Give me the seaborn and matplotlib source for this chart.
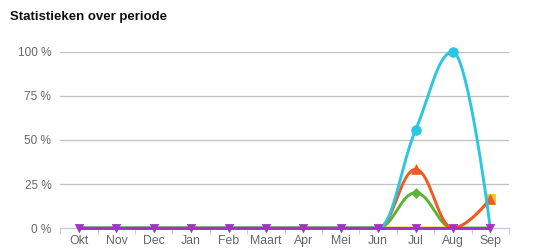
import numpy as np
import pandas as pd
import matplotlib
matplotlib.use("Agg")
import matplotlib.pyplot as plt
import seaborn as sns

months = ["Okt", "Nov", "Dec", "Jan", "Feb", "Maart", "Apr", "Mei", "Jun", "Jul", "Aug", "Sep"]
yticks = [0, 25, 50, 75, 100]
ytick_labels = ["0 %", "25 %", "50 %", "75 %", "100 %"]

yellow_vals = [0, 0, 0, 0, 0, 0, 0, 0, 0, 0, 0, 16.7]
green_vals = [0, 0, 0, 0, 0, 0, 0, 0, 0, 20, 0, 0]
orange_vals = [0, 0, 0, 0, 0, 0, 0, 0, 0, 33.3, 0, 16.7]
cyan_vals = [0, 0, 0, 0, 0, 0, 0, 0, 0, 55.6, 100, 0]
purple_vals = [0, 0, 0, 0, 0, 0, 0, 0, 0, 0, 0, 0]

# name, values, colour, marker, marker size, show markers at zero
series = [
    ("yellow", yellow_vals, "#F8C21C", "s", 6.5, False),
    ("green", green_vals, "#5BB531", "D", 5.0, False),
    ("orange", orange_vals, "#EE5A24", "^", 7.0, False),
    ("cyan", cyan_vals, "#2BC6E1", "o", 7.0, False),
    ("purple", purple_vals, "#A531C8", "v", 6.0, True),
]


def spline(xs, ys, n=40):
    """Highcharts-style spline through data points."""
    sm = 1.5
    den = sm + 1
    npts = len(xs)
    lc = [None] * npts
    rc = [None] * npts
    for i in range(npts):
        if 0 < i < npts - 1:
            px, py = xs[i], ys[i]
            lx, ly = xs[i - 1], ys[i - 1]
            nx, ny = xs[i + 1], ys[i + 1]
            lcx = (sm * px + lx) / den
            lcy = (sm * py + ly) / den
            rcx = (sm * px + nx) / den
            rcy = (sm * py + ny) / den
            corr = 0
            if rcx != lcx:
                corr = ((rcy - lcy) * (rcx - px)) / (rcx - lcx) + py - rcy
            lcy += corr
            rcy += corr
            if lcy > ly and lcy > py:
                lcy = max(ly, py)
                rcy = 2 * py - lcy
            elif lcy < ly and lcy < py:
                lcy = min(ly, py)
                rcy = 2 * py - lcy
            if rcy > ny and rcy > py:
                rcy = max(ny, py)
                lcy = 2 * py - rcy
            elif rcy < ny and rcy < py:
                rcy = min(ny, py)
                lcy = 2 * py - rcy
            lc[i] = (lcx, lcy)
            rc[i] = (rcx, rcy)
    outx, outy = [xs[0]], [ys[0]]
    t = np.linspace(0, 1, n)[1:]
    for i in range(1, npts):
        p0 = np.array([xs[i - 1], ys[i - 1]])
        p1 = np.array(rc[i - 1]) if rc[i - 1] is not None else p0
        p3 = np.array([xs[i], ys[i]])
        p2 = np.array(lc[i]) if lc[i] is not None else p3
        b = ((1 - t) ** 3)[:, None] * p0 + (3 * (1 - t) ** 2 * t)[:, None] * p1 \
            + (3 * (1 - t) * t ** 2)[:, None] * p2 + (t ** 3)[:, None] * p3
        outx.extend(b[:, 0])
        outy.extend(b[:, 1])
    return np.array(outx), np.array(outy)


plt.rcParams["font.family"] = ["Liberation Sans", "DejaVu Sans"]
fig = plt.figure(figsize=(5.4, 2.49), dpi=100)
ax = fig.add_axes([60.3 / 540, 21 / 249, (509 - 60.3) / 540, 176 / 249])

xpos = np.arange(len(months))
for z, (name, vals, col, mk, ms, zero_mk) in enumerate(series):
    sx, sy = spline(list(xpos.astype(float)), list(vals))
    df = pd.DataFrame({"x": sx, "y": sy})
    sns.lineplot(data=df, x="x", y="y", sort=False, estimator=None, ax=ax,
                 color=col, linewidth=2.1, zorder=3 + z * 2, clip_on=False)
    dm = pd.DataFrame({"x": xpos, "y": vals})
    if not zero_mk:
        dm = dm[dm["y"] != 0]
    sns.scatterplot(data=dm, x="x", y="y", ax=ax, color=col, marker=mk,
                    s=ms ** 2, edgecolor=col, linewidth=0.5, zorder=4 + z * 2,
                    clip_on=False, legend=False)

ax.set_xlim(-0.5, len(months) - 0.5)
ax.set_ylim(0, 100)
ax.set_yticks(yticks)
ax.set_yticklabels(ytick_labels)
ax.set_xticks(xpos)
ax.set_xticklabels(months)
ax.set_xticks(np.arange(-0.5, len(months), 1.0), minor=True)
ax.tick_params(axis="x", which="major", length=0, pad=5.0, labelsize=8.8, labelcolor="#666666")
ax.tick_params(axis="x", which="minor", length=4, width=0.8, color="#C0D0E0", direction="out")
ax.tick_params(axis="y", length=0, pad=6.5, labelsize=8.5, labelcolor="#666666")
for y in yticks[1:]:
    ax.axhline(y, color="#C0C0C0", linewidth=0.9, zorder=1)
ax.set_xlabel("")
ax.set_ylabel("")
for s in ["top", "right", "left"]:
    ax.spines[s].set_visible(False)
ax.spines["bottom"].set_color("#C0D0E0")
ax.spines["bottom"].set_linewidth(1.0)
ax.set_facecolor("white")

fig.text(10 / 540, 1 - 17 / 249, "Statistieken over periode", fontsize=9.5,
         fontweight="bold", va="center", ha="left", color="#111111")

fig.savefig("out.png", dpi=100)
